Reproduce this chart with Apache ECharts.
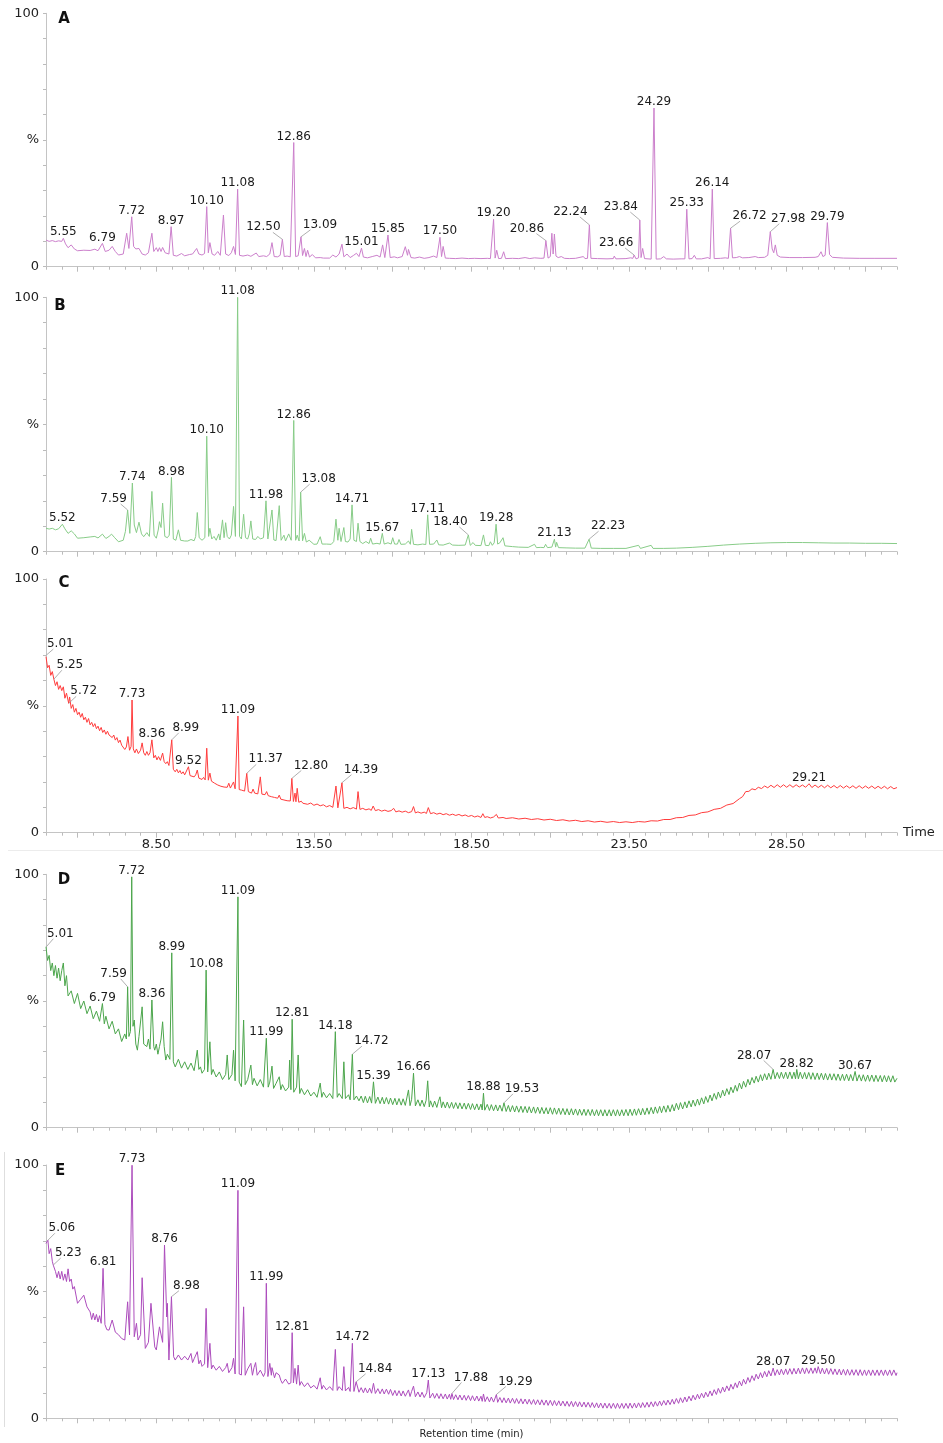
<!DOCTYPE html>
<html>
<head>
<meta charset="utf-8">
<script src="https://cdn.jsdelivr.net/npm/echarts@6/dist/echarts.min.js"></script>
<style>
html,body{margin:0;padding:0;background:#fff;}
#chart{width:943px;height:1443px;}
</style>
</head>
<body>
<div id="chart"></div>
<script>
// ---------------- DATA (retention time in min, relative abundance in %) ----------------
// Flat lists: time, value, time, value, ...
const traceA = [
5.00,10.5, 5.1,10.0, 5.2,10.3, 5.3,9.9, 5.4,10.2, 5.5,10.0, 5.55,11.2, 5.62,9.0, 5.7,7.5, 5.8,8.6, 5.9,7.0,
6.0,6.3, 6.2,6.5, 6.4,6.4, 6.55,6.9, 6.65,6.3, 6.79,9.2, 6.88,6.0, 7.0,6.5, 7.1,8.0, 7.2,6.0, 7.3,4.6,
7.45,5.0, 7.56,13.2, 7.63,7.2, 7.72,19.7, 7.78,8.0, 7.85,7.0, 7.95,7.2, 8.05,5.0, 8.15,4.6, 8.25,5.5,
8.36,13.2, 8.42,6.0, 8.5,7.5, 8.55,6.0, 8.6,7.5, 8.65,6.0, 8.7,7.6, 8.78,5.5, 8.9,5.0, 8.97,15.8,
9.04,4.5, 9.15,4.2, 9.3,5.2, 9.4,4.3, 9.55,4.8, 9.65,5.0, 9.78,7.2, 9.85,5.0, 9.95,4.6, 10.03,5.2,
10.10,23.7, 10.15,5.5, 10.2,9.5, 10.27,5.0, 10.35,4.5, 10.45,6.0, 10.53,4.5, 10.63,20.4, 10.7,5.0,
10.8,4.4, 10.88,5.5, 10.95,8.0, 11.01,4.8, 11.08,30.6, 11.14,4.5, 11.25,4.2, 11.4,4.6, 11.5,4.1,
11.67,5.4, 11.75,4.0, 11.9,4.3, 12.0,4.0, 12.1,5.0, 12.17,9.5, 12.24,4.0, 12.35,3.9, 12.43,4.5,
12.50,10.8, 12.56,4.0, 12.65,4.2, 12.75,3.9, 12.8,4.5, 12.86,49.0, 12.92,4.0, 13.0,4.3, 13.09,11.8,
13.14,4.4, 13.2,7.2, 13.25,4.0, 13.3,6.5, 13.36,3.8, 13.45,4.8, 13.55,3.5, 13.7,3.6, 13.8,3.4,
14.0,3.4, 14.1,4.6, 14.2,3.8, 14.3,5.0, 14.39,8.9, 14.45,3.9, 14.55,5.0, 14.65,3.6, 14.75,4.4,
14.85,5.3, 14.93,4.0, 15.01,7.3, 15.07,3.8, 15.2,3.5, 15.35,4.0, 15.5,4.5, 15.6,3.8, 15.68,8.6,
15.75,3.6, 15.85,12.5, 15.92,3.6, 16.05,3.9, 16.15,3.5, 16.3,4.0, 16.4,7.9, 16.47,4.5, 16.5,6.8,
16.58,3.6, 16.7,3.4, 16.85,3.8, 17.0,3.3, 17.15,3.6, 17.3,4.2, 17.4,3.6, 17.50,11.6, 17.55,4.0,
17.6,8.0, 17.67,3.4, 17.8,3.3, 18.0,3.2, 18.2,3.4, 18.4,3.2, 18.6,3.3, 18.8,3.2, 19.0,3.3, 19.1,3.2,
19.20,18.7, 19.25,3.4, 19.3,6.5, 19.36,3.2, 19.45,3.3, 19.52,5.9, 19.58,3.2, 19.8,3.3, 20.0,3.2,
20.2,3.6, 20.35,3.2, 20.5,3.5, 20.7,3.3, 20.8,3.4, 20.86,10.3, 20.93,3.4, 21.0,4.0, 21.05,13.2,
21.09,5.0, 21.13,12.9, 21.18,4.2, 21.25,3.6, 21.35,4.0, 21.45,3.3, 21.6,3.2, 21.8,3.3, 22.05,4.0,
22.1,3.2, 22.18,3.3, 22.24,16.5, 22.29,3.3, 22.5,3.2, 22.8,3.1, 23.0,3.2, 23.03,4.2, 23.08,3.1,
23.4,3.2, 23.55,3.5, 23.62,3.3, 23.66,4.6, 23.72,3.1, 23.8,3.5, 23.84,18.4, 23.88,3.6, 23.93,7.2,
23.99,3.2, 24.2,3.0, 24.29,62.6, 24.36,3.0, 24.5,3.1, 24.6,4.0, 24.68,3.1, 24.9,3.0, 25.15,3.1,
25.2,3.6, 25.27,3.1, 25.33,22.7, 25.4,3.1, 25.5,3.2, 25.57,4.5, 25.63,3.1, 25.8,3.1, 26.0,3.6,
26.07,3.1, 26.14,30.6, 26.2,3.2, 26.4,3.3, 26.55,3.5, 26.6,4.2, 26.65,3.3, 26.72,15.2, 26.78,3.5,
26.9,3.6, 27.0,4.0, 27.1,3.5, 27.3,3.6, 27.5,4.0, 27.6,3.6, 27.8,3.7, 27.9,4.5, 27.98,13.8,
28.04,7.0, 28.09,5.5, 28.14,8.6, 28.2,4.5, 28.3,3.8, 28.6,3.6, 29.0,3.6, 29.4,3.7, 29.5,4.0,
29.59,5.9, 29.65,4.0, 29.72,4.5, 29.79,17.4, 29.86,4.8, 29.95,3.7, 30.3,3.4, 30.8,3.3, 31.3,3.3, 32.0,3.3
];

const traceB = [
5.00,9.2, 5.1,8.9, 5.2,9.2, 5.3,8.6, 5.4,9.0, 5.45,9.5, 5.52,10.8, 5.6,9.0, 5.7,7.2, 5.8,8.2, 5.9,7.0,
6.0,5.3, 6.2,5.5, 6.4,5.8, 6.55,6.0, 6.65,5.4, 6.79,6.9, 6.9,5.2, 7.0,6.0, 7.08,6.9, 7.18,5.5, 7.3,3.9,
7.45,4.5, 7.52,8.0, 7.59,16.4, 7.66,7.2, 7.74,27.0, 7.8,10.5, 7.87,7.5, 7.95,11.6, 8.03,7.0, 8.1,5.9,
8.2,7.5, 8.28,6.0, 8.36,23.7, 8.43,6.5, 8.5,5.3, 8.56,8.5, 8.6,11.8, 8.65,9.5, 8.7,19.1, 8.77,6.0,
8.85,5.5, 8.91,6.5, 8.98,29.2, 9.04,5.0, 9.12,4.5, 9.2,8.6, 9.27,4.5, 9.4,4.2, 9.5,4.2, 9.6,4.8,
9.7,4.3, 9.75,6.0, 9.8,15.4, 9.86,5.5, 9.95,4.5, 10.04,5.5, 10.10,45.4, 10.16,6.0, 10.2,9.2,
10.26,5.0, 10.33,6.0, 10.4,4.5, 10.48,7.0, 10.52,4.6, 10.6,12.5, 10.65,5.5, 10.7,11.4, 10.75,6.0,
10.82,5.0, 10.88,6.5, 10.95,17.8, 11.01,6.0, 11.08,100, 11.14,6.0, 11.2,5.0, 11.27,14.7, 11.33,5.5,
11.4,5.0, 11.45,7.0, 11.5,12.1, 11.56,5.0, 11.65,4.8, 11.72,6.0, 11.8,5.0, 11.9,5.5, 11.98,20.0,
12.04,5.0, 12.1,4.6, 12.17,16.4, 12.23,4.6, 12.3,4.4, 12.4,18.1, 12.46,4.5, 12.55,6.5, 12.6,4.2,
12.7,7.0, 12.78,4.5, 12.86,51.6, 12.92,4.5, 12.97,6.5, 13.03,4.2, 13.08,23.4, 13.14,4.3, 13.2,7.2,
13.26,3.8, 13.35,4.5, 13.5,2.9, 13.6,3.0, 13.7,5.9, 13.76,3.0, 13.9,3.0, 14.05,2.9, 14.13,4.0,
14.2,12.8, 14.26,4.5, 14.3,9.2, 14.36,4.0, 14.45,9.5, 14.5,4.0, 14.58,3.8, 14.65,5.0, 14.71,18.4,
14.77,4.5, 14.85,4.0, 14.9,11.2, 14.96,4.0, 15.05,3.2, 15.15,4.0, 15.25,3.2, 15.3,5.3, 15.36,3.0,
15.5,3.3, 15.6,3.0, 15.67,7.2, 15.73,3.0, 15.85,3.5, 15.95,3.0, 16.0,5.5, 16.06,3.0, 16.15,3.0,
16.2,4.8, 16.26,2.9, 16.4,3.0, 16.5,4.2, 16.56,2.9, 16.6,8.8, 16.66,2.9, 16.8,2.7, 16.95,3.0,
17.05,2.8, 17.11,14.5, 17.17,2.9, 17.3,3.0, 17.4,4.6, 17.46,2.7, 17.6,2.6, 17.8,3.4, 17.9,2.6,
18.1,2.5, 18.3,2.6, 18.40,6.6, 18.46,2.5, 18.55,3.6, 18.62,2.5, 18.8,2.4, 18.88,6.6, 18.94,2.5,
19.05,2.4, 19.1,3.9, 19.16,2.5, 19.22,3.5, 19.28,10.8, 19.33,3.0, 19.4,3.5, 19.5,5.5, 19.56,2.3,
19.8,2.0, 20.0,1.8, 20.3,1.7, 20.5,2.9, 20.56,1.6, 20.7,1.7, 20.8,1.6, 20.85,2.9, 20.91,1.6,
21.05,1.8, 21.13,4.9, 21.17,1.8, 21.2,3.7, 21.26,1.6, 21.5,1.5, 21.8,1.4, 22.1,1.4, 22.23,4.9,
22.3,1.4, 22.6,1.3, 23.0,1.3, 23.4,1.3, 23.8,2.5, 23.86,1.3, 24.2,2.5, 24.26,1.3, 24.6,1.3,
25.0,1.4, 25.5,1.7, 26.0,2.1, 26.5,2.6, 27.0,3.0, 27.5,3.3, 28.0,3.5, 28.5,3.6, 29.0,3.6, 29.5,3.5,
30.0,3.4, 30.5,3.4, 31.0,3.3, 31.5,3.3, 32.0,3.2
];

const traceC = [
5.00,69.4, 5.01,70.0, 5.05,65.0, 5.1,66.0, 5.15,62.0, 5.2,63.5, 5.25,60.5, 5.3,58.0, 5.35,59.5, 5.4,56.5,
5.45,58.0, 5.5,56.0, 5.55,57.5, 5.6,53.0, 5.65,55.0, 5.72,51.0, 5.75,53.5, 5.8,49.0, 5.85,50.5, 5.9,47.5,
5.95,49.0, 6.0,46.5, 6.05,47.5, 6.1,45.5, 6.15,47.0, 6.2,44.5, 6.25,45.5, 6.3,43.5, 6.35,45.0, 6.4,42.5,
6.45,43.5, 6.5,41.8, 6.55,43.0, 6.6,41.0, 6.65,42.0, 6.7,40.2, 6.75,41.5, 6.8,39.5, 6.85,40.5, 6.9,38.8,
6.95,40.0, 7.0,38.5, 7.05,39.2, 7.1,37.5, 7.15,38.5, 7.2,36.5, 7.25,37.5, 7.3,35.5, 7.35,36.5, 7.4,34.5,
7.45,35.0, 7.5,32.8, 7.55,33.8, 7.6,37.9, 7.65,32.5, 7.7,34.0, 7.73,52.3, 7.77,33.0, 7.82,31.5, 7.87,33.0,
7.93,31.2, 8.0,32.5, 8.05,35.4, 8.1,31.5, 8.15,30.5, 8.2,32.0, 8.25,30.5, 8.3,31.5, 8.36,36.6, 8.42,29.5,
8.47,30.5, 8.52,28.7, 8.57,30.0, 8.63,28.5, 8.7,31.4, 8.75,28.0, 8.8,27.2, 8.85,28.0, 8.9,26.5, 8.95,27.0,
8.99,36.6, 9.04,25.0, 9.1,24.0, 9.15,25.0, 9.2,23.6, 9.25,24.5, 9.3,23.2, 9.35,24.0, 9.4,22.8, 9.46,23.5,
9.52,26.0, 9.57,22.5, 9.63,23.2, 9.7,22.0, 9.75,22.8, 9.8,24.7, 9.85,21.5, 9.9,22.2, 9.95,21.0, 10.0,21.8,
10.05,20.8, 10.1,33.3, 10.15,20.7, 10.2,23.5, 10.25,20.3, 10.3,21.0, 10.35,19.5, 10.4,20.2, 10.45,18.8,
10.5,19.5, 10.55,18.3, 10.6,19.0, 10.65,18.0, 10.7,18.6, 10.75,17.9, 10.8,19.5, 10.85,17.6, 10.9,18.2,
10.95,20.0, 11.0,17.3, 11.05,18.0, 11.09,46.0, 11.13,17.0, 11.2,16.8, 11.25,17.4, 11.3,16.4, 11.37,23.4,
11.42,16.2, 11.47,16.8, 11.52,15.6, 11.57,17.2, 11.62,15.6, 11.67,16.2, 11.72,15.3, 11.8,22.0, 11.85,15.2,
11.9,15.8, 11.95,15.0, 12.0,16.2, 12.05,14.6, 12.1,15.2, 12.15,14.2, 12.2,14.8, 12.25,13.9, 12.3,14.4,
12.35,13.6, 12.4,14.8, 12.45,13.2, 12.5,13.6, 12.55,12.9, 12.6,13.4, 12.65,12.6, 12.7,13.0, 12.75,12.5,
12.8,21.4, 12.85,12.3, 12.9,15.6, 12.93,12.2, 12.97,17.5, 13.02,12.0, 13.1,12.4, 13.15,11.6, 13.2,12.1,
13.3,11.2, 13.4,11.7, 13.5,10.8, 13.6,11.3, 13.7,10.6, 13.8,11.0, 13.9,10.2, 14.0,10.7, 14.1,10.0,
14.2,18.4, 14.26,9.8, 14.32,10.2, 14.39,19.7, 14.45,9.6, 14.55,10.0, 14.65,9.4, 14.75,9.9, 14.85,9.3,
14.9,16.2, 14.96,9.2, 15.05,9.6, 15.15,9.0, 15.25,9.4, 15.32,8.8, 15.38,10.5, 15.45,8.7, 15.55,9.1,
15.65,8.5, 15.75,8.9, 15.85,8.4, 15.95,8.7, 16.03,9.6, 16.1,8.2, 16.2,8.6, 16.3,8.1, 16.4,8.5, 16.5,7.9,
16.6,8.3, 16.66,10.3, 16.72,7.8, 16.8,8.2, 16.9,7.7, 17.0,8.1, 17.07,7.6, 17.13,9.9, 17.2,7.5, 17.3,7.9,
17.4,7.3, 17.5,7.7, 17.6,7.1, 17.7,7.5, 17.8,6.9, 17.9,7.3, 18.0,6.8, 18.1,7.2, 18.2,6.6, 18.3,7.0,
18.4,6.4, 18.5,6.8, 18.6,6.2, 18.7,6.6, 18.8,6.0, 18.86,7.5, 18.92,6.0, 19.0,6.3, 19.1,5.8, 19.2,6.2,
19.29,7.2, 19.35,5.8, 19.5,6.0, 19.6,5.6, 19.8,5.9, 20.0,5.4, 20.2,5.7, 20.4,5.2, 20.6,5.5, 20.8,5.0,
21.0,5.3, 21.2,4.8, 21.4,5.1, 21.6,4.6, 21.8,4.9, 22.0,4.4, 22.2,4.7, 22.4,4.2, 22.6,4.5, 22.8,4.1,
23.0,4.4, 23.2,4.0, 23.4,4.3, 23.6,4.0, 23.8,4.4, 24.0,4.2, 24.2,4.7, 24.4,4.6, 24.6,5.2, 24.8,5.2,
25.0,5.9, 25.2,6.0, 25.4,6.8, 25.6,7.0, 25.8,7.9, 26.0,8.2, 26.2,9.2, 26.4,9.6, 26.6,10.9, 26.8,11.5,
27.0,13.4, 27.1,14.2, 27.2,16.2, 27.3,16.3, 27.4,17.3, 27.5,16.9, 27.6,17.9, 27.7,17.4, 27.8,18.4,
27.9,17.7, 28.0,18.7, 28.1,17.8, 28.2,18.9, 28.3,17.9, 28.4,18.9, 28.5,17.9, 28.6,18.9, 28.7,17.9,
28.8,18.9, 28.9,18.0, 29.0,18.8, 29.1,17.9, 29.21,19.3, 29.3,17.8, 29.4,18.8, 29.5,17.8, 29.6,18.7,
29.7,17.7, 29.8,18.7, 29.9,17.7, 30.0,18.6, 30.1,17.6, 30.2,18.6, 30.3,17.6, 30.4,18.5, 30.5,17.6,
30.6,18.5, 30.7,17.5, 30.8,18.5, 30.9,17.5, 31.0,18.4, 31.1,17.5, 31.2,18.4, 31.3,17.4, 31.4,18.3,
31.5,17.4, 31.6,18.3, 31.7,17.3, 31.8,18.2, 31.9,17.3, 32.0,17.8
];

const traceD = [
5.00,71.4, 5.05,66, 5.1,68, 5.15,62, 5.2,65, 5.25,60, 5.3,64, 5.35,59, 5.4,63, 5.45,58, 5.5,62, 5.55,65,
5.6,56, 5.65,60, 5.7,52, 5.8,54, 5.9,49, 6.0,53, 6.1,47, 6.2,50, 6.3,45, 6.4,48, 6.5,43, 6.6,46, 6.7,42,
6.79,49, 6.85,41, 6.9,44, 7.0,39, 7.1,42, 7.2,37, 7.3,39, 7.4,34, 7.5,37, 7.55,35, 7.59,55.6, 7.63,36,
7.68,38, 7.72,99, 7.76,40, 7.8,42.5, 7.85,33, 7.9,30.6, 7.95,36, 8.05,47.7, 8.1,33, 8.2,32, 8.25,35,
8.3,31, 8.36,50.4, 8.42,32, 8.45,30.6, 8.5,33, 8.55,29, 8.6,32, 8.65,35, 8.7,41.8, 8.75,32, 8.8,26.7,
8.85,29, 8.93,27, 8.99,69, 9.04,26, 9.1,24, 9.2,27, 9.3,23.5, 9.4,26, 9.5,23, 9.6,25.5, 9.7,22.5,
9.8,30.6, 9.85,23, 9.9,24, 9.95,21.5, 10.03,23, 10.08,62.2, 10.13,22, 10.2,33.9, 10.25,21, 10.3,23,
10.4,20, 10.5,22, 10.6,19, 10.7,21, 10.75,28.7, 10.8,19, 10.9,21, 10.95,30.6, 11.0,18.5, 11.05,19,
11.09,91.1, 11.13,18, 11.2,16.2, 11.27,42.5, 11.32,17, 11.4,19, 11.5,24.7, 11.55,17, 11.6,19.5,
11.7,16.5, 11.8,19, 11.9,16, 11.99,35.3, 12.05,16, 12.1,18, 12.17,24.3, 12.22,15.5, 12.3,17.5,
12.4,20.1, 12.45,15, 12.5,17, 12.6,14.5, 12.7,16, 12.73,26.7, 12.77,15, 12.81,42.8, 12.86,14,
12.9,14.9, 12.95,16, 13.0,28.7, 13.05,13.5, 13.1,15.5, 13.2,13, 13.3,15, 13.4,12.5, 13.5,14, 13.6,12,
13.7,17.6, 13.75,12, 13.8,14, 13.9,11.8, 14.0,13.5, 14.1,11.5, 14.18,37.9, 14.24,12, 14.3,13.5,
14.4,11.5, 14.45,26, 14.5,11.5, 14.6,13, 14.65,11, 14.72,29, 14.77,11, 14.85,12.5, 14.93,10.6,
15.00,12.5, 15.07,9.9, 15.13,12.4, 15.20,9.8, 15.27,12.3, 15.33,9.7, 15.39,18.1, 15.45,9.6, 15.53,12.1,
15.60,9.5, 15.67,12.0, 15.73,9.4, 15.80,11.9, 15.87,9.3, 15.93,11.7, 16.00,9.1, 16.07,11.6, 16.13,9.0,
16.20,11.5, 16.27,8.9, 16.33,11.4, 16.40,8.8, 16.50,14.9, 16.55,8.7, 16.60,11.2, 16.66,21.5, 16.72,8.6,
16.80,11.0, 16.87,8.5, 16.93,10.9, 17.00,8.3, 17.06,10.8, 17.11,18.5, 17.16,8.2, 17.20,10.6, 17.27,8.1,
17.33,10.5, 17.40,8.0, 17.45,10.4, 17.50,12.2, 17.55,7.9, 17.60,10.2, 17.67,7.8, 17.73,10.1, 17.80,7.7,
17.87,10.0, 17.93,7.6, 18.00,9.9, 18.07,7.5, 18.13,9.8, 18.20,7.4, 18.27,9.7, 18.33,7.3, 18.40,9.6,
18.47,7.2, 18.53,9.5, 18.60,7.1, 18.67,9.4, 18.73,7.0, 18.80,9.3, 18.84,7.0, 18.88,13.6, 18.92,6.9,
19.00,9.2, 19.07,6.8, 19.13,9.1, 19.20,6.7, 19.27,9.0, 19.33,6.6, 19.40,8.9, 19.47,6.5, 19.53,9.8,
19.60,6.4, 19.67,8.8, 19.73,6.3, 19.80,8.7, 19.87,6.2, 19.93,8.6, 20.00,6.1, 20.07,8.5, 20.13,6.0,
20.20,8.4, 20.27,5.9, 20.33,8.3, 20.40,5.8, 20.47,8.2, 20.53,5.7, 20.60,8.1, 20.67,5.6, 20.73,8.0,
20.80,5.5, 20.87,7.9, 20.93,5.4, 21.00,7.9, 21.07,5.3, 21.13,7.8, 21.20,5.3, 21.27,7.7, 21.33,5.2,
21.40,7.6, 21.47,5.1, 21.53,7.5, 21.60,5.0, 21.67,7.5, 21.73,5.0, 21.80,7.4, 21.87,4.9, 21.93,7.3,
22.00,4.9, 22.07,7.3, 22.13,4.8, 22.20,7.2, 22.27,4.8, 22.33,7.2, 22.40,4.7, 22.47,7.1, 22.53,4.7,
22.60,7.1, 22.67,4.6, 22.73,7.1, 22.80,4.6, 22.87,7.1, 22.93,4.6, 23.00,7.1, 23.07,4.6, 23.13,7.1,
23.20,4.6, 23.27,7.1, 23.33,4.7, 23.40,7.2, 23.47,4.7, 23.53,7.3, 23.60,4.8, 23.67,7.4, 23.73,4.9,
23.80,7.5, 23.87,5.0, 23.93,7.6, 24.00,5.1, 24.07,7.8, 24.13,5.3, 24.20,8.0, 24.27,5.5, 24.33,8.2,
24.40,5.7, 24.47,8.4, 24.53,5.9, 24.60,8.6, 24.67,6.1, 24.73,8.8, 24.80,6.3, 24.87,9.1, 24.93,6.6,
25.00,9.6, 25.07,7.1, 25.13,9.9, 25.20,7.4, 25.27,10.2, 25.33,7.8, 25.40,10.6, 25.47,8.2, 25.53,10.9,
25.60,8.5, 25.67,11.3, 25.73,8.9, 25.80,11.8, 25.87,9.4, 25.93,12.3, 26.00,10.0, 26.07,12.9, 26.13,10.6,
26.20,13.5, 26.27,11.2, 26.33,14.1, 26.40,11.8, 26.47,14.8, 26.53,12.5, 26.60,15.4, 26.67,13.1, 26.73,16.0,
26.80,13.8, 26.87,16.7, 26.93,14.4, 27.00,17.6, 27.07,15.3, 27.13,18.3, 27.20,16.0, 27.27,19.1, 27.33,16.9,
27.40,19.8, 27.47,17.6, 27.53,20.3, 27.60,18.0, 27.67,20.9, 27.73,18.5, 27.80,21.3, 27.87,18.9, 27.93,21.5,
28.00,19.1, 28.07,23.0, 28.13,19.3, 28.20,21.8, 28.27,19.4, 28.33,21.9, 28.40,19.4, 28.47,21.9, 28.53,19.3,
28.60,22.0, 28.67,19.3, 28.73,21.9, 28.78,19.3, 28.82,23.0, 28.87,19.3, 28.93,21.9, 29.00,19.3, 29.07,21.8,
29.13,19.2, 29.20,21.8, 29.27,19.1, 29.33,21.7, 29.40,19.0, 29.47,21.6, 29.53,19.0, 29.60,21.5, 29.67,18.9,
29.73,21.4, 29.80,18.8, 29.87,21.3, 29.93,18.8, 30.00,21.3, 30.07,18.7, 30.13,21.2, 30.20,18.6, 30.27,21.1,
30.33,18.6, 30.40,21.1, 30.47,18.5, 30.53,21.0, 30.60,18.5, 30.67,22.2, 30.73,18.4, 30.80,20.9, 30.87,18.4,
30.93,20.9, 31.00,18.3, 31.07,20.8, 31.13,18.3, 31.20,20.8, 31.27,18.2, 31.33,20.7, 31.40,18.2, 31.47,20.6,
31.53,18.1, 31.60,20.6, 31.67,18.1, 31.73,20.5, 31.80,18.0, 31.87,20.5, 31.93,18.0, 32.00,19.5
];

const traceE = [
5.00,69, 5.06,70.3, 5.1,65, 5.15,67, 5.2,62, 5.23,60.5, 5.3,58, 5.35,55.5, 5.4,58, 5.45,55, 5.5,58,
5.55,54.5, 5.6,57, 5.65,54, 5.7,59, 5.75,54, 5.8,55, 5.85,51, 5.9,52, 6.0,45.4, 6.1,47, 6.2,48.6,
6.3,44, 6.4,42, 6.45,39, 6.5,41.5, 6.55,38.8, 6.6,41, 6.65,38, 6.7,40.5, 6.75,37.5, 6.81,59.2,
6.87,37, 6.93,35, 7.0,34.8, 7.1,38.8, 7.2,34, 7.3,33, 7.4,31.5, 7.5,30.9, 7.59,46, 7.65,32.9,
7.73,99.9, 7.8,32.2, 7.87,37.5, 7.92,30.9, 8.0,33, 8.05,55.5, 8.15,27.6, 8.25,30, 8.33,45.4,
8.45,28.2, 8.5,27, 8.6,36.1, 8.7,30, 8.76,68.4, 8.83,40, 8.85,45.4, 8.9,23, 8.98,48, 9.05,24.3,
9.1,23, 9.2,25, 9.3,23, 9.4,24.5, 9.5,23, 9.6,25.6, 9.65,22, 9.7,23.5, 9.8,26.3, 9.85,21.5, 9.9,23,
9.95,20.5, 10.03,21.5, 10.08,43.4, 10.13,20, 10.2,29.6, 10.25,19.5, 10.3,21, 10.4,19, 10.5,20.5,
10.6,18.5, 10.7,20, 10.75,21.7, 10.8,18, 10.9,20, 10.95,23.7, 11.0,17.5, 11.05,18, 11.09,90,
11.13,17.5, 11.2,17.1, 11.27,44, 11.32,17, 11.4,19.5, 11.5,21.7, 11.55,17, 11.6,20, 11.65,22,
11.7,17, 11.8,19, 11.9,16.5, 11.95,18, 11.99,53.3, 12.04,16.5, 12.1,21.7, 12.15,17, 12.17,20,
12.25,16, 12.3,18, 12.4,17.1, 12.45,15, 12.5,13.8, 12.6,15.5, 12.7,13.5, 12.77,14, 12.81,33.8,
12.85,14, 12.9,19.7, 12.95,13.5, 13.0,21, 13.05,13, 13.1,14.5, 13.2,12.5, 13.3,14, 13.4,12, 13.5,13,
13.6,11.5, 13.7,16, 13.75,11.5, 13.8,13, 13.9,11.2, 14.0,12.5, 14.1,11, 14.18,27.2, 14.24,11,
14.3,12.5, 14.4,11, 14.45,20.4, 14.5,10.8, 14.6,12.2, 14.65,10.6, 14.72,29.6, 14.77,10.6,
14.84,14.4, 14.93,10.3,
15.00,12.1, 15.07,10.1, 15.13,12.0, 15.20,10.0, 15.27,11.9, 15.33,9.9, 15.39,13.8, 15.45,9.8, 15.53,11.7,
15.60,9.7, 15.67,11.6, 15.73,9.6, 15.80,11.5, 15.87,9.5, 15.93,11.4, 16.00,9.0, 16.07,11.0, 16.13,8.9,
16.20,10.9, 16.27,8.8, 16.33,10.8, 16.40,8.7, 16.50,11.2, 16.55,8.6, 16.60,10.6, 16.66,12.7, 16.72,8.5,
16.80,10.4, 16.87,8.4, 16.93,10.3, 17.00,8.2, 17.08,10.1, 17.13,15.1, 17.18,8.0, 17.27,9.9, 17.33,7.9,
17.40,9.8, 17.47,7.8, 17.53,9.7, 17.60,7.7, 17.67,9.6, 17.73,7.6, 17.80,9.5, 17.84,7.5, 17.88,9.8,
17.93,7.4, 18.00,9.3, 18.07,7.3, 18.13,9.2, 18.20,7.2, 18.27,9.1, 18.33,7.1, 18.40,9.0, 18.47,7.0,
18.53,8.9, 18.60,6.9, 18.67,8.8, 18.73,6.8, 18.80,8.7, 18.84,6.7, 18.88,9.6, 18.93,6.6, 19.00,8.5,
19.07,6.5, 19.13,8.4, 19.20,6.4, 19.25,8.0, 19.29,9.4, 19.33,6.3, 19.40,8.2, 19.47,6.2, 19.53,8.1,
19.60,6.1, 19.67,8.0, 19.73,6.0, 19.80,7.9, 19.87,5.9, 19.93,7.8, 20.00,5.8, 20.07,7.7, 20.13,5.7,
20.20,7.6, 20.27,5.6, 20.33,7.5, 20.40,5.5, 20.47,7.4, 20.53,5.4, 20.60,7.3, 20.67,5.3, 20.73,7.3,
20.80,5.2, 20.87,7.2, 20.93,5.1, 21.00,7.1, 21.07,5.0, 21.13,7.0, 21.20,5.0, 21.27,6.9, 21.33,4.9,
21.40,6.8, 21.47,4.8, 21.53,6.7, 21.60,4.7, 21.67,6.7, 21.73,4.6, 21.80,6.6, 21.87,4.6, 21.93,6.5,
22.00,4.5, 22.07,6.4, 22.13,4.4, 22.20,6.3, 22.27,4.3, 22.33,6.2, 22.40,4.2, 22.47,6.1, 22.53,4.1,
22.60,6.0, 22.67,4.0, 22.73,6.0, 22.80,4.0, 22.87,5.9, 22.93,3.9, 23.00,5.9, 23.07,3.9, 23.13,5.9,
23.20,3.9, 23.27,5.9, 23.33,3.9, 23.40,5.9, 23.47,3.9, 23.53,6.0, 23.60,4.0, 23.67,6.0, 23.73,4.1,
23.80,6.1, 23.87,4.2, 23.93,6.2, 24.00,4.3, 24.07,6.3, 24.13,4.4, 24.20,6.5, 24.27,4.6, 24.33,6.6,
24.40,4.8, 24.47,6.8, 24.53,5.0, 24.60,7.0, 24.67,5.2, 24.73,7.2, 24.80,5.4, 24.87,7.5, 24.93,5.6,
25.00,7.8, 25.07,5.9, 25.13,8.1, 25.20,6.2, 25.27,8.4, 25.33,6.5, 25.40,8.7, 25.47,6.9, 25.53,9.1,
25.60,7.3, 25.67,9.5, 25.73,7.7, 25.80,9.9, 25.87,8.1, 25.93,10.3, 26.00,8.5, 26.07,10.8, 26.13,8.9,
26.20,11.3, 26.27,9.4, 26.33,11.8, 26.40,9.9, 26.47,12.3, 26.53,10.4, 26.60,12.8, 26.67,10.9, 26.73,13.4,
26.80,11.5, 26.87,14.0, 26.93,12.1, 27.00,14.7, 27.07,12.8, 27.13,15.4, 27.20,13.5, 27.27,16.1, 27.33,14.2,
27.40,16.8, 27.47,14.9, 27.53,17.4, 27.60,15.5, 27.67,18.0, 27.73,16.0, 27.80,18.5, 27.87,16.4, 27.93,18.8,
28.00,16.7, 28.07,19.8, 28.13,16.9, 28.20,19.2, 28.27,17.1, 28.33,19.4, 28.40,17.2, 28.47,19.5, 28.53,17.3,
28.60,19.6, 28.67,17.4, 28.73,19.7, 28.80,17.5, 28.87,19.8, 28.93,17.6, 29.00,19.9, 29.07,17.6, 29.13,19.9,
29.20,17.7, 29.27,19.9, 29.33,17.7, 29.40,19.9, 29.45,17.8, 29.50,20.4, 29.57,17.6, 29.63,19.8, 29.70,17.5,
29.77,19.7, 29.83,17.4, 29.90,19.6, 29.97,17.3, 30.03,19.5, 30.10,17.2, 30.17,19.4, 30.23,17.1, 30.30,19.3,
30.37,17.0, 30.43,19.3, 30.50,17.0, 30.57,19.2, 30.63,17.0, 30.70,19.2, 30.77,16.9, 30.83,19.2, 30.90,16.9,
30.97,19.1, 31.03,16.9, 31.10,19.1, 31.17,16.9, 31.23,19.1, 31.30,16.9, 31.37,19.1, 31.43,16.9, 31.50,19.1,
31.57,16.9, 31.63,19.1, 31.70,16.9, 31.77,19.1, 31.83,16.9, 31.90,19.1, 31.97,16.9, 32.00,18.0
];

// Annotated peaks: retention-time label and apex height (%)
const peakLabelsA = ['5.55','6.79','7.72','8.97','10.10','11.08','12.50','12.86','13.09','15.01','15.85','17.50','19.20','20.86','22.24','23.66','23.84','24.29','25.33','26.14','26.72','27.98','29.79'];
const peakHeightsA = [11.2,9.2,19.7,15.8,23.7,30.6,10.8,49.0,11.8,7.3,12.5,11.6,18.7,10.3,16.5,4.6,18.4,62.6,22.7,30.6,15.2,13.8,17.4];

const peakLabelsB = ['5.52','7.59','7.74','8.98','10.10','11.08','11.98','12.86','13.08','14.71','15.67','17.11','18.40','19.28','21.13','22.23'];
const peakHeightsB = [10.8,16.4,27.0,29.2,45.4,100,20.0,51.6,23.4,18.4,7.2,14.5,6.6,10.8,4.9,4.9];

const peakLabelsC = ['5.01','5.25','5.72','7.73','8.36','8.99','9.52','11.09','11.37','12.80','14.39','29.21'];
const peakHeightsC = [70.0,60.5,51.0,52.3,36.6,36.6,26.0,46.0,23.4,21.4,19.7,19.3];

const peakLabelsD = ['5.01','6.79','7.59','7.72','8.36','8.99','10.08','11.09','11.99','12.81','14.18','14.72','15.39','16.66','18.88','19.53','28.07','28.82','30.67'];
const peakHeightsD = [71.4,49.0,55.6,99.0,50.4,69.0,62.2,91.1,35.3,42.8,37.9,29.0,18.1,21.5,13.6,9.8,23.0,23.0,22.2];

const peakLabelsE = ['5.06','5.23','6.81','7.73','8.76','8.98','11.09','11.99','12.81','14.72','14.84','17.13','17.88','19.29','28.07','29.50'];
const peakHeightsE = [70.3,60.5,59.2,99.9,68.4,48.0,90.0,53.3,33.8,29.6,14.4,15.1,9.8,9.4,19.8,20.4];

const panelLetters = ['A','B','C','D','E'];
const xTickLabels = ['8.50','13.50','18.50','23.50','28.50'];
const yTickLabels = {0:'0', 50:'%', 100:'100'};
const xAxisName = 'Retention time (min)';
const timeAxisName = 'Time';

// ---------------- LAYOUT / STYLE ----------------
// label displacement (px) for labels drawn with a leader line
const leaderA = {'12.50':[-19,-6],'13.09':[19,-6],'20.86':[-19,-6],'22.24':[-19,-7],'23.66':[-18,-6],'23.84':[-19,-7],'26.72':[19,-6],'27.98':[18,-7]};
const leaderB = {'7.59':[-14,-5],'13.08':[18,-7],'18.40':[-18,-7],'22.23':[19,-7]};
const leaderC = {'5.01':[14,-5],'5.25':[16,-8],'5.72':[15,-6],'8.99':[14,-6],'11.37':[19,-8],'12.80':[19,-7],'14.39':[19,-7]};
const leaderD = {'5.01':[14,-7],'7.59':[-14,-7],'14.72':[19,-7],'19.53':[18,-8],'28.07':[-19,-8]};
const leaderE = {'5.06':[14,-6],'5.23':[15,-6],'8.98':[15,-5],'14.84':[19,-7],'17.88':[19,-10],'19.29':[19,-7]};

const gridBoxes = [[13.3,253.4],[297.3,254.4],[579,253.7],[874.3,253.4],[1165,253.3]];
const letterPos = [[64,19.5],[60,306],[64,583.5],[64,880],[60,1171]];
const colors = ['#cc80cc','#88cc88','#ff3c3c','#4ca64c','#ac4cbc'];
const FONT = '"DejaVu Sans", "Liberation Sans", sans-serif';
const X_MIN = 5, X_MAX = 32;

const traces = [traceA, traceB, traceC, traceD, traceE];
const labelSets = [peakLabelsA, peakLabelsB, peakLabelsC, peakLabelsD, peakLabelsE];
const heightSets = [peakHeightsA, peakHeightsB, peakHeightsC, peakHeightsD, peakHeightsE];
const leaderSets = [leaderA, leaderB, leaderC, leaderD, leaderE];

function toPairs(flat) {
  const out = [];
  for (let i = 0; i + 1 < flat.length; i += 2) out.push([flat[i], flat[i + 1]]);
  return out;
}

const tallTicks = [6, 8.5, 11, 13.5, 16, 18.5, 21, 23.5, 26, 28.5, 31];
const labelTickValues = xTickLabels.map(parseFloat);

const grids = [], xAxes = [], yAxes = [], series = [];

gridBoxes.forEach((g, k) => {
  grids.push({left: 46, right: 46, top: g[0], height: g[1], containLabel: false});

  const mainX = {
    type: 'value', gridIndex: k, position: 'bottom', min: X_MIN, max: X_MAX, interval: 0.5,
    axisLine: {show: true, onZero: false, lineStyle: {color: '#c4c4c4', width: 1}},
    axisTick: {show: true, length: 3, lineStyle: {color: '#bbbbbb', width: 1}},
    axisLabel: {show: false},
    splitLine: {show: false}
  };
  if (k === 2) {
    mainX.name = timeAxisName;
    mainX.nameLocation = 'end';
    mainX.nameGap = 6;
    mainX.nameTextStyle = {fontFamily: FONT, fontSize: 13, color: '#222', verticalAlign: 'middle'};
  }
  if (k === 4) {
    mainX.name = xAxisName;
    mainX.nameLocation = 'middle';
    mainX.nameGap = 11;
    mainX.nameTextStyle = {fontFamily: FONT, fontSize: 10, color: '#222'};
  }
  xAxes.push(mainX);

  xAxes.push({
    type: 'value', gridIndex: k, position: 'bottom', offset: 0, min: X_MIN, max: X_MAX,
    axisLine: {show: false, onZero: false},
    axisTick: {show: true, length: 5, customValues: tallTicks, lineStyle: {color: '#bbbbbb', width: 1}},
    axisLabel: {
      show: k === 2, customValues: labelTickValues, margin: 5,
      fontFamily: FONT, fontSize: 13, color: '#222',
      formatter: v => xTickLabels[labelTickValues.indexOf(v)] || ''
    },
    splitLine: {show: false}
  });

  yAxes.push({
    type: 'value', gridIndex: k, position: 'left', min: 0, max: 100, interval: 10,
    axisLine: {show: true, lineStyle: {color: '#c4c4c4', width: 1}},
    axisTick: {show: true, length: 3, lineStyle: {color: '#bbbbbb', width: 1}},
    axisLabel: {margin: 7, fontFamily: FONT, fontSize: 13, color: '#222',
      formatter: v => (yTickLabels[v] !== undefined ? yTickLabels[v] : '')},
    splitLine: {show: false}
  });

  series.push({
    type: 'line', xAxisIndex: 2 * k, yAxisIndex: k,
    data: toPairs(traces[k]),
    showSymbol: false, symbol: 'none', smooth: false, sampling: null,
    lineStyle: {color: colors[k], width: 1},
    emphasis: {disabled: true}, silent: true, z: 2
  });

  const labels = labelSets[k], heights = heightSets[k], leaders = leaderSets[k];
  series.push({
    type: 'custom', xAxisIndex: 2 * k, yAxisIndex: k, clip: false, silent: true, z: 5,
    data: labels.map((s, i) => [parseFloat(s), heights[i], i]),
    encode: {x: 0, y: 1},
    renderItem: function (params, api) {
      const idx = api.value(2);
      const text = labels[idx];
      const p = api.coord([api.value(0), api.value(1)]);
      const off = leaders[text];
      const children = [];
      let tx = p[0], ty = p[1];
      if (off) {
        tx = p[0] + off[0];
        ty = p[1] + off[1];
        children.push({
          type: 'line',
          shape: {x1: p[0], y1: p[1], x2: p[0] + off[0] * 0.5, y2: ty - 1},
          style: {stroke: '#9a9a9a', lineWidth: 0.8}
        });
      }
      children.push({
        type: 'text',
        x: tx, y: ty,
        style: {
          text: text, font: '12px ' + FONT, fill: '#1a1a1a',
          align: 'center', verticalAlign: 'bottom',
          textAlign: 'center', textVerticalAlign: 'bottom'
        }
      });
      return {type: 'group', children: children};
    }
  });
});

const graphics = panelLetters.map((t, k) => ({
  type: 'text', x: letterPos[k][0], y: letterPos[k][1], z: 10,
  style: {text: t, font: 'bold 15px ' + FONT, fill: '#111',
    align: 'center', verticalAlign: 'middle', textAlign: 'center', textVerticalAlign: 'middle'}
}));
graphics.push({type: 'line', shape: {x1: 8, y1: 850.5, x2: 943, y2: 850.5}, style: {stroke: '#ececec', lineWidth: 1}});
graphics.push({type: 'line', shape: {x1: 4.5, y1: 1152, x2: 4.5, y2: 1427}, style: {stroke: '#dedede', lineWidth: 1}});

const chart = echarts.init(document.getElementById('chart'), null, {renderer: 'canvas'});
chart.setOption({
  animation: false,
  backgroundColor: '#ffffff',
  grid: grids,
  xAxis: xAxes,
  yAxis: yAxes,
  series: series,
  graphic: graphics
});
</script>
</body>
</html>
